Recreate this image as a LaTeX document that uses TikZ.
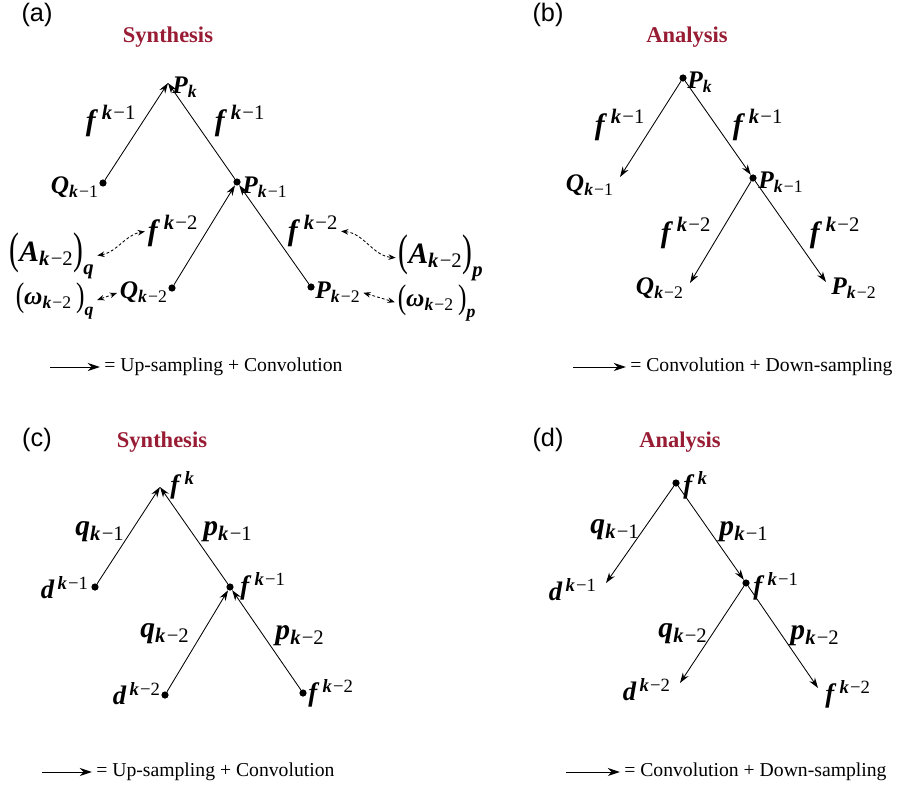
\documentclass[tikz,border=0pt]{standalone}
\usepackage{graphicx}
\usepackage{fontspec}
\setmainfont{Liberation Serif}
\newfontfamily\panelfont{Liberation Sans}
\usetikzlibrary{arrows.meta,positioning}
\definecolor{titlered}{RGB}{152,28,52}
\newcommand{\bi}[1]{\textbf{\textit{#1}}}
\newcommand{\km}[1]{\bi{k}\kern0.06em−#1}
\newcommand{\nlow}[2]{\bi{#1}\textsubscript{#2}}
\newcommand{\nhigh}[2]{\bi{#1}\kern0.12em\textsuperscript{#2}}
\newcommand{\lpar}[1]{\raisebox{-0.07em}{\scalebox{1}[#1]{(}}}
\newcommand{\rpar}[1]{\raisebox{-0.07em}{\scalebox{1}[#1]{)}}}
\newcommand{\grp}[3]{\lpar{#1}#2\rpar{#1}\raisebox{-0.3em}{\textsubscript{\bi{#3}}}}

\begin{document}
\begin{tikzpicture}[
        x=0.025cm, y=-0.025cm,
        dotnode/.style={circle, fill=black, inner sep=0pt, minimum size=0.18cm},
        nodelab/.style={inner sep=0pt, font=\fontsize{18}{20}\selectfont},
        bignodelab/.style={inner sep=0pt, font=\fontsize{19}{22}\selectfont},
        edgelab/.style={inner sep=0pt, font=\fontsize{21}{24}\selectfont},
        heading/.style={font=\fontsize{16}{18}\selectfont\bfseries, text=titlered},
        panel/.style={font=\fontsize{18}{20}\selectfont\panelfont},
        legend/.style={anchor=west, inner sep=0pt, font=\fontsize{14}{16}\selectfont},
        flow/.style={-{Stealth[length=2.6mm,width=1.7mm]}, line width=0.6pt},
        keyarrow/.style={-{Stealth[length=3mm,width=2mm]}, line width=0.7pt, shorten >=3pt},
        link/.style={{Stealth[length=1.8mm,width=1.4mm]}-{Stealth[length=1.8mm,width=1.4mm]},
            dash pattern=on 2pt off 1.5pt, line width=0.6pt, shorten <=2pt, shorten >=2pt}
    ]
    \useasboundingbox (0,0) rectangle (906,788);

    % (a) synthesis
    \node[panel] (a-tag) at (37,15) {(a)};
    \node[heading] (a-head) at (168,37) {Synthesis};
    \coordinate (a-pk) at (168,83);
    \node[dotnode] (a-qk1) at (103,183) {};
    \node[dotnode] (a-pk1) at (237,182) {};
    \node[dotnode] (a-qk2) at (172,288) {};
    \node[dotnode] (a-pk2) at (311,287) {};
    \foreach \source/\target in {a-qk1/a-pk,a-pk1/a-pk,a-qk2/a-pk1,a-pk2/a-pk1} {
        \draw[flow] (\source) -- (\target);
    }
    \node[nodelab, anchor=west] (a-pkl) at (172,87) {\nlow{P}{\bi{k}}};
    \node[nodelab, anchor=east] (a-qk1l) at (99,187) {\nlow{Q}{\km{1}}};
    \node[nodelab, anchor=west] (a-pk1l) at (242,187) {\nlow{P}{\km{1}}};
    \node[nodelab, anchor=east] (a-qk2l) at (168,292) {\nlow{Q}{\km{2}}};
    \node[nodelab, anchor=west] (a-pk2l) at (315,292) {\nlow{P}{\km{2}}};
    \node[edgelab] (a-fl1) at (111,121) {\nhigh{f}{\km{1}}};
    \node[edgelab] (a-fr1) at (240,121) {\nhigh{f}{\km{1}}};
    \node[edgelab] (a-fl2) at (173,231) {\nhigh{f}{\km{2}}};
    \node[edgelab] (a-fr2) at (313,231) {\nhigh{f}{\km{2}}};
    \node[edgelab] (a-aq) at (52,256) {\grp{1.5}{\nlow{A}{\km{2}}}{q}};
    \node[nodelab] (a-wq) at (55,301) {\grp{1.35}{\nlow{ω}{\km{2}}\,}{q}};
    \node[edgelab] (a-ap) at (441,258) {\grp{1.5}{\nlow{A}{\km{2}}}{p}};
    \node[nodelab] (a-wp) at (437,303) {\grp{1.35}{\nlow{ω}{\km{2}}\,}{p}};
    \draw[link] (a-aq.east) to[out=10, in=190] (a-fl2.west);
    \draw[link] (a-wq.east) -- (a-qk2l.west);
    \draw[link] (a-fr2.east) to[out=-5, in=175] (a-ap.west);
    \draw[link] (a-pk2l.east) -- (a-wp.west);
    \node[legend] (a-key) at (104,367) {= Up-sampling + Convolution};
    \coordinate (a-keystart) at (50,367);
    \draw[keyarrow] (a-keystart) -- (a-key.west);

    % (b) analysis
    \node[panel] (b-tag) at (548,15) {(b)};
    \node[heading] (b-head) at (687,37) {Analysis};
    \node[dotnode] (b-pk) at (683,78) {};
    \coordinate (b-qk1) at (620,177);
    \node[dotnode] (b-pk1) at (753,178) {};
    \coordinate (b-qk2) at (690,283);
    \coordinate (b-pk2) at (826,282);
    \foreach \source/\target in {b-pk/b-qk1,b-pk/b-pk1,b-pk1/b-qk2,b-pk1/b-pk2} {
        \draw[flow] (\source) -- (\target);
    }
    \node[nodelab, anchor=west] (b-pkl) at (687,82) {\nlow{P}{\bi{k}}};
    \node[nodelab, anchor=east] (b-qk1l) at (614,185) {\nlow{Q}{\km{1}}};
    \node[nodelab, anchor=west] (b-pk1l) at (758,182) {\nlow{P}{\km{1}}};
    \node[nodelab, anchor=east] (b-qk2l) at (684,288) {\nlow{Q}{\km{2}}};
    \node[nodelab, anchor=west] (b-pk2l) at (831,288) {\nlow{P}{\km{2}}};
    \node[edgelab] (b-fl1) at (620,125) {\nhigh{f}{\km{1}}};
    \node[edgelab] (b-fr1) at (758,125) {\nhigh{f}{\km{1}}};
    \node[edgelab] (b-fl2) at (686,233) {\nhigh{f}{\km{2}}};
    \node[edgelab] (b-fr2) at (835,233) {\nhigh{f}{\km{2}}};
    \node[legend] (b-key) at (630,367) {= Convolution + Down-sampling};
    \coordinate (b-keystart) at (573,367);
    \draw[keyarrow] (b-keystart) -- (b-key.west);

    % (c) synthesis with filters
    \node[panel] (c-tag) at (37,440) {(c)};
    \node[heading] (c-head) at (162,442) {Synthesis};
    \coordinate (c-fk) at (160,487);
    \node[dotnode] (c-dk1) at (95,587) {};
    \node[dotnode] (c-fk1) at (230,587) {};
    \node[dotnode] (c-dk2) at (165,695) {};
    \node[dotnode] (c-fk2) at (303,693) {};
    \foreach \source/\target in {c-dk1/c-fk,c-fk1/c-fk,c-dk2/c-fk1,c-fk2/c-fk1} {
        \draw[flow] (\source) -- (\target);
    }
    \node[bignodelab, anchor=west] (c-fkl) at (170,485) {\nhigh{f}{\bi{k}}};
    \node[bignodelab, anchor=east] (c-dk1l) at (89,588) {\nhigh{d}{\km{1}}};
    \node[bignodelab, anchor=west] (c-fk1l) at (240,586) {\nhigh{f}{\km{1}}};
    \node[bignodelab, anchor=east] (c-dk2l) at (161,694) {\nhigh{d}{\km{2}}};
    \node[bignodelab, anchor=west] (c-fk2l) at (308,693) {\nhigh{f}{\km{2}}};
    \node[edgelab] (c-ql1) at (100,532) {\nlow{q}{\km{1}}};
    \node[edgelab] (c-pr1) at (228,532) {\nlow{p}{\km{1}}};
    \node[edgelab] (c-ql2) at (165,634) {\nlow{q}{\km{2}}};
    \node[edgelab] (c-pr2) at (300,636) {\nlow{p}{\km{2}}};
    \node[legend] (c-key) at (96,772) {= Up-sampling + Convolution};
    \coordinate (c-keystart) at (42,772);
    \draw[keyarrow] (c-keystart) -- (c-key.west);

    % (d) analysis with filters
    \node[panel] (d-tag) at (548,440) {(d)};
    \node[heading] (d-head) at (680,442) {Analysis};
    \node[dotnode] (d-fk) at (676,483) {};
    \coordinate (d-dk1) at (606,583);
    \node[dotnode] (d-fk1) at (746,583) {};
    \coordinate (d-dk2) at (680,683);
    \coordinate (d-fk2) at (818,688);
    \foreach \source/\target in {d-fk/d-dk1,d-fk/d-fk1,d-fk1/d-dk2,d-fk1/d-fk2} {
        \draw[flow] (\source) -- (\target);
    }
    \node[bignodelab, anchor=west] (d-fkl) at (683,485) {\nhigh{f}{\bi{k}}};
    \node[bignodelab, anchor=east] (d-dk1l) at (597,590) {\nhigh{d}{\km{1}}};
    \node[bignodelab, anchor=west] (d-fk1l) at (753,586) {\nhigh{f}{\km{1}}};
    \node[bignodelab, anchor=east] (d-dk2l) at (671,690) {\nhigh{d}{\km{2}}};
    \node[bignodelab, anchor=west] (d-fk2l) at (825,694) {\nhigh{f}{\km{2}}};
    \node[edgelab] (d-ql1) at (615,530) {\nlow{q}{\km{1}}};
    \node[edgelab] (d-pr1) at (744,532) {\nlow{p}{\km{1}}};
    \node[edgelab] (d-ql2) at (683,634) {\nlow{q}{\km{2}}};
    \node[edgelab] (d-pr2) at (815,636) {\nlow{p}{\km{2}}};
    \node[legend] (d-key) at (624,772) {= Convolution + Down-sampling};
    \coordinate (d-keystart) at (566,772);
    \draw[keyarrow] (d-keystart) -- (d-key.west);
\end{tikzpicture}
\end{document}
